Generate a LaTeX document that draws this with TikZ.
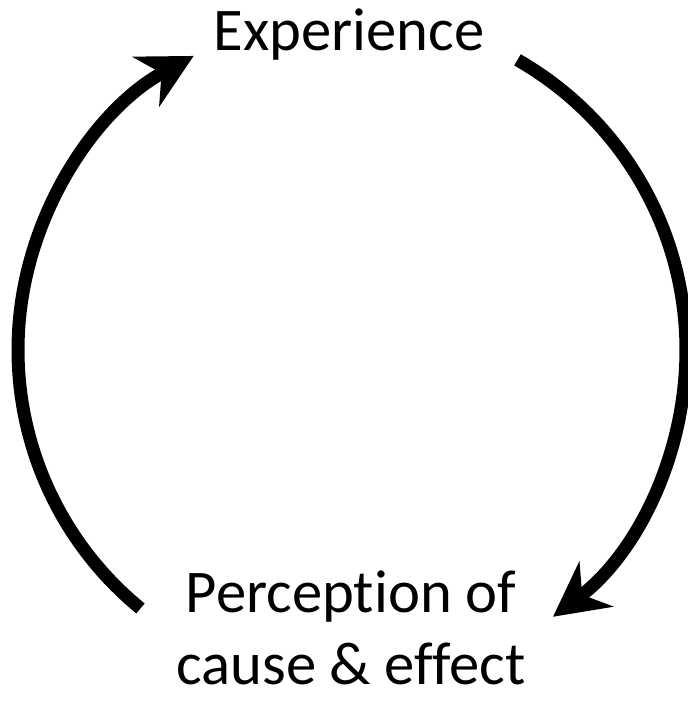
\documentclass[tikz,border=0pt]{standalone}
\usepackage{fontspec}
\setmainfont[Ligatures=NoCommon]{Carlito}
\usetikzlibrary{arrows.meta}

\begin{document}
\begin{tikzpicture}[
    x=0.02cm, y=0.02cm,
    lbl/.style={font=\fontsize{34.5}{41.5}\selectfont, inner sep=0pt, align=center},
    cyc/.style={line width=0.26cm, -{Stealth[length=1.08cm, width=1.12cm]}},
  ]
    \useasboundingbox (0,0) rectangle (688,701);

    \coordinate (c) at (352,351);

    \node[lbl, anchor=base] (exp) at (349,650) {Experience};
    \node[lbl, anchor=base, text depth=0pt] (perc) at (351,16) {Perception of\\cause \& effect};

    % experience -> perception
    \draw[cyc] (c) ++(60.3:334) arc[start angle=60.3, end angle=-53, radius=334];
    % perception -> experience
    \draw[cyc] (c) ++(230.7:334) arc[start angle=230.7, end angle=118.3, radius=334];
  \end{tikzpicture}
\end{document}
